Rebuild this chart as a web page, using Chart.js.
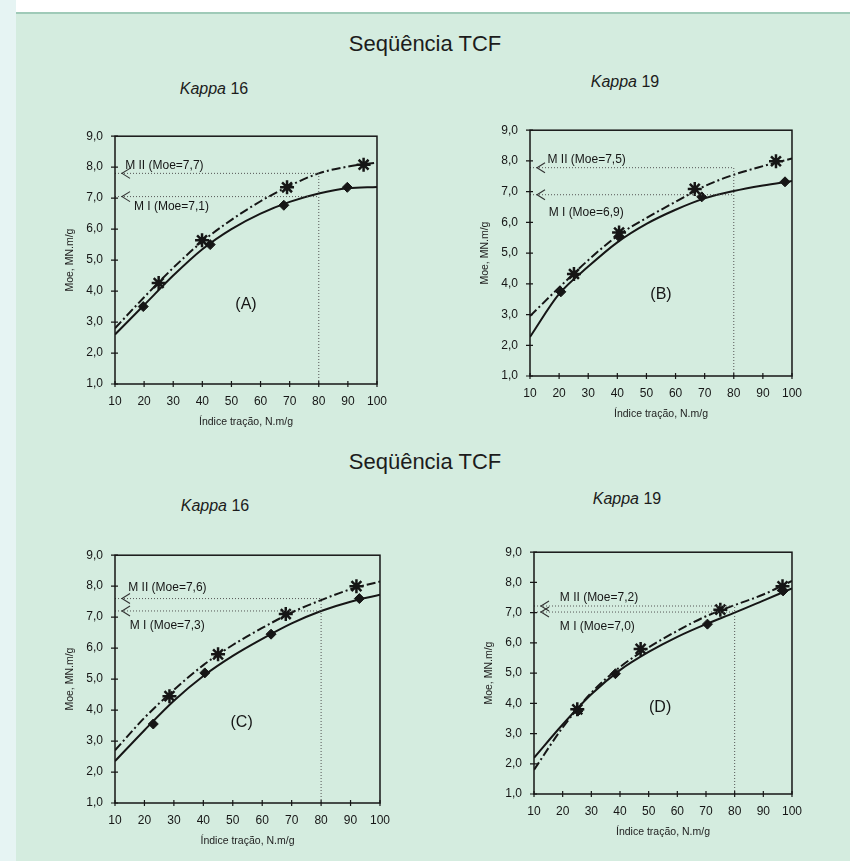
<!DOCTYPE html>
<html lang="pt">
<head>
<meta charset="UTF-8">
<title>Seqüência TCF</title>
<script src="https://cdn.jsdelivr.net/npm/chart.js@4"></script>
<style>
    body {
        margin: 0;
        width: 850px;
        height: 861px;
        background: #d4ecdf;
        font-family: 'Liberation Sans', Arial, sans-serif;
        color: #1c1c1c;
        position: relative;
        overflow: hidden;
    }
    .strip-top {
        position: absolute; left: 0; top: 0;
        width: 850px; height: 12px;
        background: #fff;
        border-bottom: 2px solid #9fcab8;
    }
    .strip-left {
        position: absolute; left: 0; top: 0;
        width: 16px; height: 861px;
        background: #e6f4f3;
    }
    .title {
        position: absolute; left: 0; width: 850px;
        text-align: center; font-size: 22px;
    }
    .kappa {
        position: absolute; font-size: 16px;
        transform: translateX(-50%);
        white-space: nowrap;
    }
    .panel { position: absolute; }
</style>
</head>
<body>
<div class="strip-top"></div>
<div class="strip-left"></div>

<div class="title" style="top:31px">Seqüência TCF</div>
<div class="title" style="top:449px">Seqüência TCF</div>

<div class="kappa" style="left:214px; top:80px"><i>Kappa</i> 16</div>
<div class="kappa" style="left:625px; top:73px"><i>Kappa</i> 19</div>
<div class="kappa" style="left:215px; top:497px"><i>Kappa</i> 16</div>
<div class="kappa" style="left:627px; top:490px"><i>Kappa</i> 19</div>

<div class="panel" id="pA"><canvas id="cA"></canvas></div>
<div class="panel" id="pB"><canvas id="cB"></canvas></div>
<div class="panel" id="pC"><canvas id="cC"></canvas></div>
<div class="panel" id="pD"><canvas id="cD"></canvas></div>

<script>
const fitX = [10, 20, 30, 40, 50, 60, 70, 80, 90, 100];
const refX = 80;   // dotted reference at tensile index 80

// (A) Kappa 16
const aPtsIx = [19.7, 42.7, 68, 89.8];
const aPtsIy = [3.5, 5.5, 6.77, 7.35];
const aPtsIIx = [25, 39.9, 69.1, 95.4];
const aPtsIIy = [4.26, 5.64, 7.35, 8.08];
const aFitI = [2.6, 3.55, 4.5, 5.35, 6.0, 6.5, 6.88, 7.15, 7.32, 7.36];
const aFitII = [2.8, 3.8, 4.75, 5.6, 6.3, 6.9, 7.4, 7.8, 8.02, 8.15];
const aLevels = [7.05, 7.8];      // MI, MII dotted levels
const aLabels = ['M I (Moe=7,1)', 'M II (Moe=7,7)'];

// (B) Kappa 19
const bPtsIx = [20.6, 40.6, 69, 97.6];
const bPtsIy = [3.74, 5.53, 6.83, 7.32];
const bPtsIIx = [25.1, 40.6, 66.6, 94.5];
const bPtsIIy = [4.32, 5.67, 7.09, 7.99];
const bFitI = [2.27, 3.67, 4.56, 5.35, 5.95, 6.41, 6.78, 7.02, 7.2, 7.35];
const bFitII = [2.95, 3.88, 4.77, 5.56, 6.14, 6.67, 7.18, 7.55, 7.83, 8.08];
const bLevels = [6.9, 7.78];
const bLabels = ['M I (Moe=6,9)', 'M II (Moe=7,5)'];

// (C) Kappa 16
const cPtsIx = [23, 40.5, 63, 93];
const cPtsIy = [3.55, 5.2, 6.45, 7.6];
const cPtsIIx = [28.5, 45, 68, 92];
const cPtsIIy = [4.45, 5.8, 7.1, 8.0];
const cFitI = [2.35, 3.35, 4.3, 5.1, 5.75, 6.3, 6.8, 7.2, 7.5, 7.72];
const cFitII = [2.7, 3.75, 4.65, 5.45, 6.1, 6.65, 7.15, 7.55, 7.9, 8.15];
const cLevels = [7.2, 7.6];
const cLabels = ['M I (Moe=7,3)', 'M II (Moe=7,6)'];

// (D) Kappa 19
const dPtsIx = [25.4, 38.4, 70.5, 96.9];
const dPtsIy = [3.75, 4.98, 6.62, 7.72];
const dPtsIIx = [25.1, 47.2, 75, 96.7];
const dPtsIIy = [3.8, 5.8, 7.1, 7.87];
const dFitI = [2.2, 3.3, 4.3, 5.1, 5.7, 6.2, 6.62, 7.0, 7.4, 7.8];
const dFitII = [1.8, 3.2, 4.35, 5.2, 5.85, 6.4, 6.88, 7.25, 7.6, 8.05];
const dLevels = [7.02, 7.22];
const dLabels = ['M I (Moe=7,0)', 'M II (Moe=7,2)'];

const xTicks = [10, 20, 30, 40, 50, 60, 70, 80, 90, 100];
const yTicks = [1, 2, 3, 4, 5, 6, 7, 8, 9];

const INK = '#161616';
const FONT = "'Liberation Sans', Arial, sans-serif";

function pts(xs, ys) {
    return xs.map((x, i) => ({ x: x, y: ys[i] }));
}

// frame, crossing ticks, chevrons, labels and panel letter
const decor = {
    id: 'decor',
    afterDatasetsDraw(chart) {
        const o = chart.options.plugins.decor;
        const ctx = chart.ctx;
        const a = chart.chartArea;
        const xs = chart.scales.x, ys = chart.scales.y;
        ctx.save();
        ctx.strokeStyle = INK;
        ctx.lineWidth = 1.5;
        ctx.strokeRect(a.left, a.top, a.right - a.left, a.bottom - a.top);

        ctx.lineWidth = 1.2;
        ctx.beginPath();
        xTicks.forEach(v => {
            const px = xs.getPixelForValue(v);
            ctx.moveTo(px, a.bottom - 3); ctx.lineTo(px, a.bottom + 3);
        });
        yTicks.forEach(v => {
            const py = ys.getPixelForValue(v);
            ctx.moveTo(a.left - 4, py); ctx.lineTo(a.left + 3, py);
        });
        ctx.stroke();

        // open arrow heads at the axis end of the dotted lines
        ctx.strokeStyle = '#333';
        ctx.lineWidth = 1.1;
        o.levels.forEach(lv => {
            const py = ys.getPixelForValue(lv);
            ctx.beginPath();
            ctx.moveTo(a.left + 15, py - 5);
            ctx.lineTo(a.left + 7, py);
            ctx.lineTo(a.left + 15, py + 5);
            ctx.stroke();
        });

        ctx.fillStyle = INK;
        ctx.font = '12px ' + FONT;
        ctx.textAlign = 'left';
        ctx.textBaseline = 'middle';
        o.labels.forEach(l => {
            ctx.fillText(l.text, xs.getPixelForValue(l.x), ys.getPixelForValue(l.y));
        });

        ctx.font = '16px ' + FONT;
        ctx.textAlign = 'center';
        ctx.fillText(o.letter.text, xs.getPixelForValue(o.letter.x), ys.getPixelForValue(o.letter.y));
        ctx.restore();
    }
};

function makePanel(id, box, d) {
    const padL = 55, padT = 12, padR = 14, padB = 48;
    const w = box.r - box.l + padL + padR;
    const h = box.b - box.t + padT + padB;
    const wrap = document.getElementById('p' + id);
    wrap.style.left = (box.l - padL) + 'px';
    wrap.style.top = (box.t - padT) + 'px';
    const cv = document.getElementById('c' + id);
    cv.width = w; cv.height = h;
    cv.style.width = w + 'px'; cv.style.height = h + 'px';

    const dotted = {
        type: 'line', borderColor: '#555', borderWidth: 1, borderDash: [1, 2],
        pointRadius: 0, fill: false
    };

    new Chart(cv, {
        type: 'scatter',
        data: {
            datasets: [
                Object.assign({ data: [{ x: 10, y: d.levels[1] }, { x: refX, y: d.levels[1] }] }, dotted),
                Object.assign({ data: [{ x: 10, y: d.levels[0] }, { x: refX, y: d.levels[0] }] }, dotted),
                Object.assign({ data: [{ x: refX, y: 1 }, { x: refX, y: d.levels[1] }] }, dotted),
                {
                    type: 'line', label: 'M I', data: pts(fitX, d.fitI),
                    borderColor: INK, borderWidth: 2, pointRadius: 0,
                    cubicInterpolationMode: 'monotone'
                },
                {
                    type: 'line', label: 'M II', data: pts(fitX, d.fitII),
                    borderColor: INK, borderWidth: 2, borderDash: [9, 3, 2, 3], pointRadius: 0,
                    cubicInterpolationMode: 'monotone'
                },
                {
                    data: pts(d.pIx, d.pIy), pointStyle: 'rectRot', pointRadius: 5,
                    backgroundColor: INK, borderColor: INK, borderWidth: 1
                },
                {
                    data: pts(d.pIIx, d.pIIy), pointStyle: 'star', pointRadius: 7,
                    borderColor: INK, borderWidth: 2.5
                }
            ]
        },
        options: {
            responsive: false,
            animation: false,
            events: [],
            layout: { padding: { left: 0, top: padT, right: padR, bottom: 0 } },
            plugins: {
                legend: { display: false },
                tooltip: { enabled: false },
                decor: { levels: d.levels, labels: d.labels, letter: d.letter }
            },
            scales: {
                x: {
                    type: 'linear', min: 10, max: 100,
                    afterBuildTicks: s => { s.ticks = xTicks.map(v => ({ value: v })); },
                    afterFit: s => { s.height = padB; },
                    grid: { display: false, drawTicks: false },
                    border: { display: false },
                    ticks: { color: INK, font: { family: FONT, size: 12 }, padding: 10, maxRotation: 0 },
                    title: {
                        display: true, text: 'Índice tração, N.m/g', color: '#222',
                        font: { family: FONT, size: 10.5 }, padding: { top: 4, bottom: 4 }
                    }
                },
                y: {
                    type: 'linear', min: 1, max: 9,
                    afterBuildTicks: s => { s.ticks = yTicks.map(v => ({ value: v })); },
                    afterFit: s => { s.width = padL; },
                    grid: { display: false, drawTicks: false },
                    border: { display: false },
                    ticks: {
                        color: INK, font: { family: FONT, size: 12 }, padding: 12,
                        callback: v => v.toFixed(1).replace('.', ',')
                    },
                    title: {
                        display: true, text: 'Moe, MN.m/g', color: '#222',
                        font: { family: FONT, size: 10.5 }, padding: { top: 4, bottom: 4 }
                    }
                }
            }
        },
        plugins: [decor]
    });
}

makePanel('A', { l: 115, t: 129, r: 383, b: 384 }, {
    pIx: aPtsIx, pIy: aPtsIy, pIIx: aPtsIIx, pIIy: aPtsIIy,
    fitI: aFitI, fitII: aFitII, levels: aLevels,
    labels: [{ text: aLabels[1], x: 13.5, y: 8.05 }, { text: aLabels[0], x: 16.5, y: 6.72 }],
    letter: { text: '(A)', x: 55, y: 3.55 }
});
makePanel('B', { l: 530, t: 123, r: 798, b: 376 }, {
    pIx: bPtsIx, pIy: bPtsIy, pIIx: bPtsIIx, pIIy: bPtsIIy,
    fitI: bFitI, fitII: bFitII, levels: bLevels,
    labels: [{ text: bLabels[1], x: 16, y: 8.03 }, { text: bLabels[0], x: 16.4, y: 6.33 }],
    letter: { text: '(B)', x: 55, y: 3.65 }
});
makePanel('C', { l: 115, t: 548, r: 386, b: 803 }, {
    pIx: cPtsIx, pIy: cPtsIy, pIIx: cPtsIIx, pIIy: cPtsIIy,
    fitI: cFitI, fitII: cFitII, levels: cLevels,
    labels: [{ text: cLabels[1], x: 14.5, y: 7.95 }, { text: cLabels[0], x: 15, y: 6.73 }],
    letter: { text: '(C)', x: 53, y: 3.6 }
});
makePanel('D', { l: 534, t: 545, r: 798, b: 794 }, {
    pIx: dPtsIx, pIy: dPtsIy, pIIx: dPtsIIx, pIIy: dPtsIIy,
    fitI: dFitI, fitII: dFitII, levels: dLevels,
    labels: [{ text: dLabels[1], x: 19, y: 7.5 }, { text: dLabels[0], x: 19, y: 6.55 }],
    letter: { text: '(D)', x: 54, y: 3.86 }
});
</script>
</body>
</html>
